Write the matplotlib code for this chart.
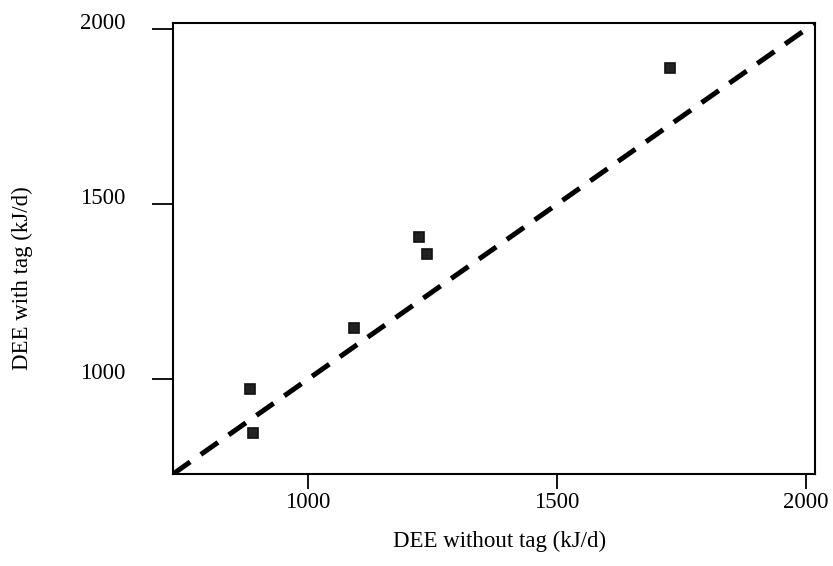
import matplotlib
matplotlib.use("Agg")
import matplotlib.pyplot as plt
import matplotlib.transforms as mtransforms
import numpy as np

plt.rcParams['font.family'] = ['Liberation Serif', 'DejaVu Serif']

# DEE values (kJ/d)
dee_without_tag = [884, 890, 1092, 1222, 1238, 1727]
dee_with_tag = [971, 846, 1146, 1406, 1357, 1889]
ticks = [1000, 1500, 2000]
x_lim = (729, 2018)
y_lim = (729, 2018)
line_of_equality = [729, 2018]

fig = plt.figure(figsize=(8.33, 5.66), dpi=100)
ax = fig.add_axes([173/833, 92/566, 642/833, 451/566])

ax.plot(line_of_equality, line_of_equality, color='black', lw=3.6,
        dashes=(4.2, 2.6), solid_capstyle='butt', dash_capstyle='butt')
ax.plot(dee_without_tag, dee_with_tag, linestyle='none', marker='s',
        markersize=7.5, color='#222222', markeredgewidth=1.2,
        markeredgecolor='#111111')

ax.set_xlim(*x_lim)
ax.set_ylim(*y_lim)
ax.set_xticks(ticks)
ax.set_yticks(ticks)
ax.set_xticklabels([str(t) for t in ticks])
ax.set_yticklabels([str(t) for t in ticks])

for s in ax.spines.values():
    s.set_linewidth(1.5)
ax.tick_params(axis='x', direction='out', length=11, width=1.3, pad=2,
               labelsize=16.5)
ax.tick_params(axis='y', direction='out', length=15, width=1.3, pad=19,
               labelsize=16.5)

# y tick labels sit a little above their ticks in the original
offset = mtransforms.ScaledTranslation(0, 8/100, fig.dpi_scale_trans)
for lab in ax.get_yticklabels():
    lab.set_transform(lab.get_transform() + offset)

fig.text(500/833, 1 - 541/566, 'DEE without tag (kJ/d)', ha='center',
         va='center', fontsize=16.5)
fig.text(22/833, 1 - 278/566, 'DEE with tag (kJ/d)', ha='center',
         va='center', rotation=90, fontsize=16.5)

fig.savefig('out.png', dpi=100)
